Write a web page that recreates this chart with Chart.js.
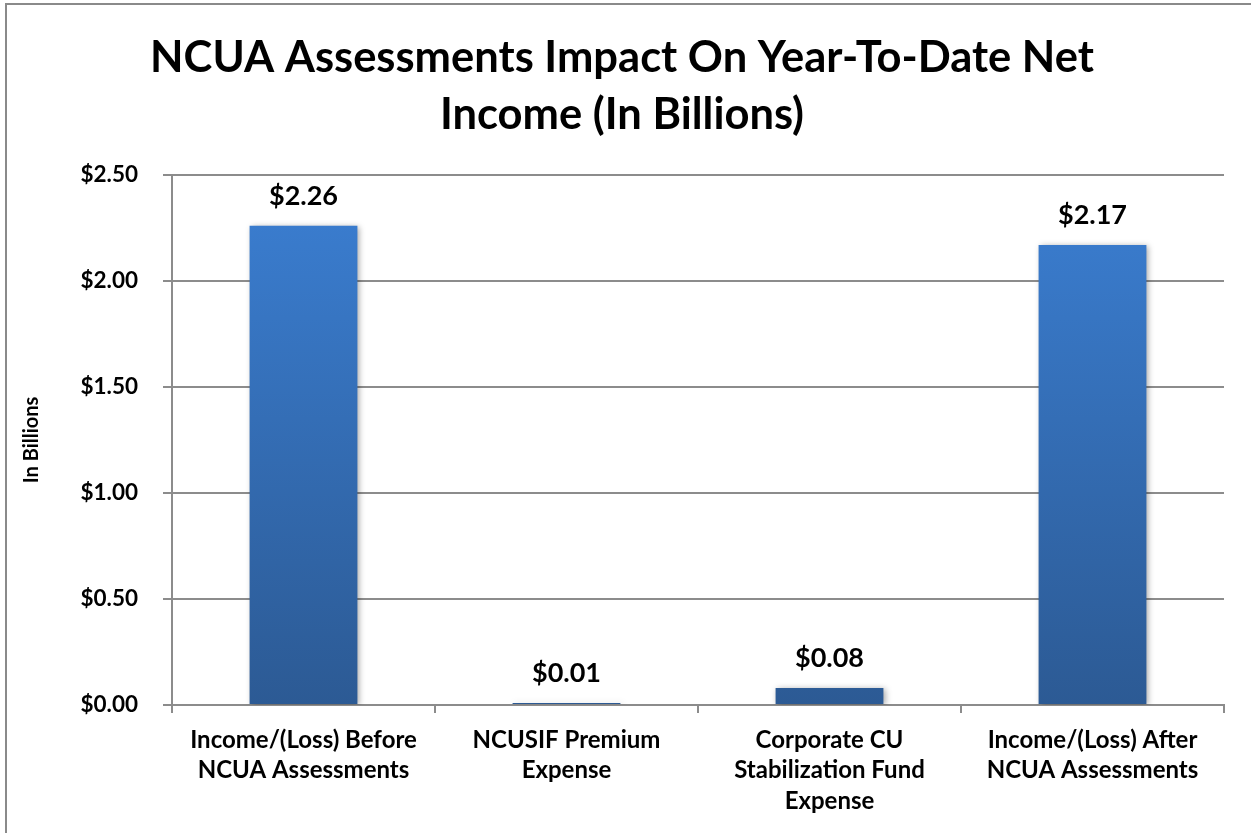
<!DOCTYPE html>
<html>
<head>
<meta charset="utf-8">
<script src="https://cdn.jsdelivr.net/npm/chart.js@4.4.1/dist/chart.umd.min.js"></script>
<style>
  html, body { margin: 0; padding: 0; background: #fff; }
  #wrap { width: 1251px; height: 833px; position: relative; }
</style>
</head>
<body>
<div id="wrap"><canvas id="ncuaChart"></canvas></div>
<script>
// Datos del gráfico
const categories = [
    ["Income/(Loss) Before", "NCUA Assessments"],
    ["NCUSIF Premium", "Expense"],
    ["Corporate CU", "Stabilization Fund", "Expense"],
    ["Income/(Loss) After", "NCUA Assessments"]
];
const values = [2.26, 0.01, 0.08, 2.17];
const yTicks = [0, 0.5, 1.0, 1.5, 2.0, 2.5];

const COLORS = {
    barTop: "#3b7fd3",
    barBottom: "#2c5a94",
    grid: "#8c8c8c",
    text: "#000000",
    frame: "#8a8a8a"
};
const FONT = "Lato, 'Open Sans', sans-serif";

const money = v => '$' + v.toFixed(2);

// Marco exterior y etiquetas de valor
const framePlugin = {
    id: 'frame',
    beforeDraw(chart) {
        const c = chart.ctx;
        c.save();
        c.fillStyle = '#fff';
        c.fillRect(0, 0, chart.width, chart.height);
        c.strokeStyle = COLORS.frame;
        c.lineWidth = 2;
        c.strokeRect(6, 4, chart.width + 20, chart.height + 20);
        c.restore();
    },
    beforeDatasetDraw(chart) {
        const c = chart.ctx;
        c.save();
        c.shadowColor = 'rgba(0,0,0,0.35)';
        c.shadowBlur = 6;
        c.shadowOffsetX = 2;
        c.shadowOffsetY = 1;
    },
    afterDatasetDraw(chart) {
        chart.ctx.restore();
    },
    afterDatasetsDraw(chart) {
        const c = chart.ctx;
        const meta = chart.getDatasetMeta(0);
        c.save();
        c.font = "bold 27px " + FONT;
        c.fillStyle = COLORS.text;
        c.textAlign = 'center';
        c.textBaseline = 'middle';
        meta.data.forEach((bar, i) => {
            c.fillText(money(values[i]), bar.x, bar.y - 30);
        });
        c.restore();
    }
};

document.addEventListener("DOMContentLoaded", function () {
    const ctx = document.getElementById("ncuaChart");

    new Chart(ctx, {
        type: 'bar',
        data: {
            labels: categories,
            datasets: [{
                data: values,
                backgroundColor: context => {
                    const area = context.chart.chartArea;
                    if (!area) return COLORS.barTop;
                    const g = context.chart.ctx.createLinearGradient(0, area.top, 0, area.bottom);
                    g.addColorStop(0, COLORS.barTop);
                    g.addColorStop(1, COLORS.barBottom);
                    return g;
                },
                borderWidth: 0,
                categoryPercentage: 1.0,
                barPercentage: 0.41
            }]
        },
        options: {
            responsive: true,
            maintainAspectRatio: false,
            animation: false,
            layout: {
                padding: { left: 20, right: 27, top: 0, bottom: 0 }
            },
            scales: {
                x: {
                    afterFit: axis => { axis.height = 128; },
                    grid: {
                        display: true,
                        offset: true,
                        drawOnChartArea: false,
                        drawTicks: true,
                        tickLength: 8,
                        color: COLORS.grid,
                        lineWidth: 2
                    },
                    border: { color: COLORS.grid, width: 2 },
                    ticks: {
                        color: COLORS.text,
                        font: { family: FONT, size: 24, weight: 'bold', lineHeight: 1.27 },
                        padding: 12,
                        maxRotation: 0,
                        autoSkip: false
                    }
                },
                y: {
                    min: 0,
                    max: 2.5,
                    afterBuildTicks: axis => {
                        axis.ticks = yTicks.map(v => ({ value: v }));
                    },
                    afterFit: axis => { axis.width = 152; },
                    grid: {
                        color: COLORS.grid,
                        lineWidth: 2,
                        tickLength: 9
                    },
                    border: { color: COLORS.grid, width: 2 },
                    ticks: {
                        color: COLORS.text,
                        font: { family: FONT, size: 22.5, weight: 'bold' },
                        padding: 25,
                        callback: v => money(v)
                    },
                    title: {
                        display: true,
                        text: "In Billions",
                        color: COLORS.text,
                        font: { family: FONT, size: 20, weight: 'bold' },
                        padding: { top: 0, bottom: 0 }
                    }
                }
            },
            plugins: {
                legend: { display: false },
                tooltip: { enabled: false },
                title: {
                    display: true,
                    text: ["NCUA Assessments Impact On Year-To-Date Net", "Income (In Billions)"],
                    color: COLORS.text,
                    font: { family: FONT, size: 43.5, weight: 'bold', lineHeight: 1.31 },
                    padding: { top: 29, bottom: 32 }
                }
            }
        },
        plugins: [framePlugin]
    });
});
</script>
</body>
</html>
